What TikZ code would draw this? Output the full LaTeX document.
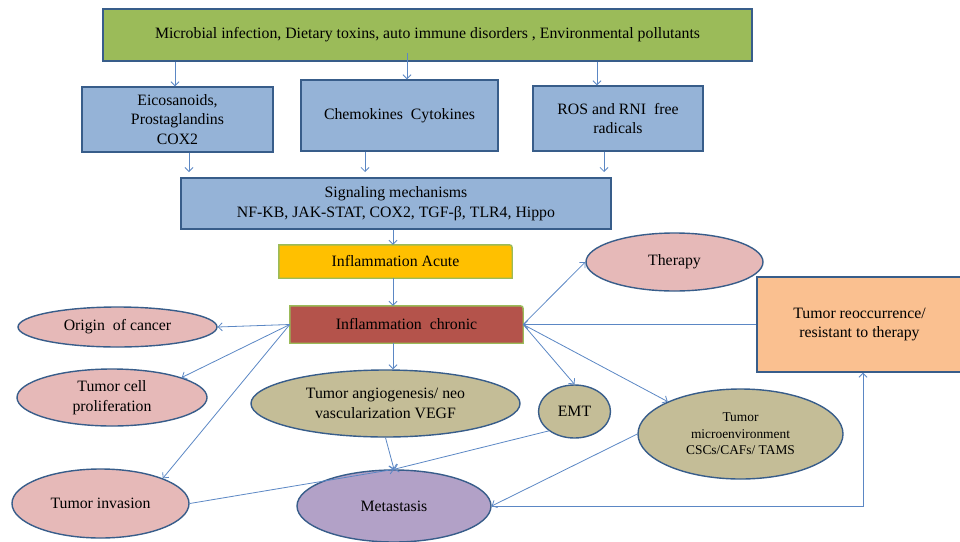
\documentclass[tikz,border=0pt]{standalone}
\usepackage{fontspec}
\setmainfont{Liberation Serif}
\usetikzlibrary{shapes.geometric,arrows.meta,backgrounds,calc}
\definecolor{bord}{HTML}{385D8A}
\definecolor{grnfill}{HTML}{9BBB59}
\definecolor{bluefill}{HTML}{95B3D7}
\definecolor{amber}{HTML}{FFC000}
\definecolor{redfill}{HTML}{B4534B}
\definecolor{pinkfill}{HTML}{E6B9B8}
\definecolor{khaki}{HTML}{C4BD97}
\definecolor{lilac}{HTML}{B2A1C7}
\definecolor{peach}{HTML}{FAC090}
\definecolor{arrcol}{HTML}{5B87C4}
\begin{document}
\begin{tikzpicture}[x=1pt,y=-1pt,
  txt/.style={font=\fontsize{15.8}{19.5}\selectfont, text=black, align=center, inner sep=0pt},
  boxn/.style={txt, draw=bord, line width=1.4pt, rectangle},
  ell/.style={txt, draw=bord, line width=1.4pt, ellipse},
  plain/.style={txt, rectangle},
  arr/.style={draw=arrcol, line width=0.8pt, -{Straight Barb[length=4pt,width=8pt]}},
  ln/.style={draw=arrcol, line width=0.8pt}
]
\useasboundingbox (0,0) rectangle (960,541);
\clip (0,0) rectangle (960,541);

% top row
\node[boxn, fill=grnfill, minimum width=649pt, minimum height=52pt] (top) at (427.5,35)
  {Microbial infection, Dietary toxins, auto immune disorders , Environmental pollutants};
\node[boxn, fill=bluefill, minimum width=191pt, minimum height=65pt] (eico) at (177.5,119.5)
  {Eicosanoids,\\Prostaglandins\\COX2};
\node[boxn, fill=bluefill, minimum width=197pt, minimum height=71pt] (chemo) at (399.5,115.5)
  {Chemokines~ Cytokines};
\node[boxn, fill=bluefill, minimum width=170pt, minimum height=65pt] (ros) at (618,118.5)
  {ROS and RNI~ free\\radicals};
\node[boxn, fill=bluefill, minimum width=430pt, minimum height=51pt] (sig) at (396,203.5)
  {Signaling mechanisms\\NF-KB, JAK-STAT, COX2, TGF-β, TLR4, Hippo};

% acute / chronic
\node[plain, minimum width=233pt, minimum height=33pt] (acute) at (395.5,261.5) {Inflammation Acute};
\node[plain, minimum width=233pt, minimum height=37pt] (chronic) at (406.5,324.5) {Inflammation~ chronic};
\begin{scope}[on background layer]
  \draw[line width=1.4pt, draw=grnfill, fill=amber]
    (acute.south west) -- (acute.north west) -- ($(acute.north east)-(6,0)$)
    .. controls (acute.north east) .. ($(acute.north east)+(0,6)$) -- (acute.south east) -- cycle;
  \draw[line width=1.4pt, draw=grnfill, fill=redfill]
    (chronic.south west) -- (chronic.north west) -- ($(chronic.north east)-(6,0)$)
    .. controls (chronic.north east) .. ($(chronic.north east)+(0,6)$) -- (chronic.south east) -- cycle;
\end{scope}

% ellipses
\node[ell, fill=pinkfill, minimum width=199pt, minimum height=40pt] (origin) at (117.5,327) {Origin~ of cancer};
\node[ell, fill=pinkfill, minimum width=190pt, minimum height=57pt] (prolif) at (112,397.5) {Tumor cell\\proliferation};
\node[ell, fill=pinkfill, minimum width=177pt, minimum height=69pt] (invasion) at (100.5,503.5) {Tumor invasion};
\node[ell, fill=khaki, minimum width=269pt, minimum height=67pt] (angio) at (385.5,403.5) {Tumor angiogenesis/ neo\\vascularization VEGF};
\node[ell, fill=khaki, minimum width=72pt, minimum height=53pt] (emt) at (574.5,411.5) {EMT};
\node[ell, fill=khaki, minimum width=205pt, minimum height=90pt, font=\fontsize{13.4}{16.5}\selectfont] (micro) at (740.5,434) {Tumor\\microenvironment\\CSCs/CAFs/ TAMS};
\node[ell, fill=lilac, minimum width=194pt, minimum height=72pt] (meta) at (394,506) {Metastasis};
\node[ell, fill=pinkfill, minimum width=177pt, minimum height=58pt] (therapy) at (674.5,262) {Therapy};
\node[boxn, fill=peach, minimum width=205pt, minimum height=95pt] (recur) at (859.5,324.5) {Tumor reoccurrence/\\resistant to therapy};

% helper coordinates
\coordinate (xa) at (175,0);
\coordinate (xb) at (407,53);
\coordinate (xc) at (597,0);
\coordinate (ea) at (189,172);
\coordinate (eb) at (365,172);
\coordinate (ec) at (604,172);
\coordinate (spine) at (393,0);
\coordinate (turn) at (863,0);

% connectors
\draw[arr] (top.south -| xa) -- (eico.north -| xa);
\draw[arr] (xb) -- (chemo.north -| xb);
\draw[arr] (top.south -| xc) -- (ros.north -| xc);
\draw[arr] (eico.south -| ea) -- (ea);
\draw[arr] (chemo.south -| eb) -- (eb);
\draw[arr] (ros.south -| ec) -- (ec);
\draw[arr] (sig.south -| spine) -- (acute.north -| spine);
\draw[arr] (acute.south -| spine) -- (chronic.north -| spine);
\draw[arr] (chronic.south -| spine) -- (spine |- angio.north);

\draw[arr] (chronic.west) -- (origin.east);
\draw[arr] (chronic.west) -- (prolif.16);
\draw[arr] (chronic.west) -- (invasion.22);
\draw[arr] (chronic.east) -- (therapy.west);
\draw[arr] (chronic.east) -- (emt.north);
\draw[arr] (chronic.east) -- (micro.156);
\draw[arr] (recur.west) -- (recur.west -| chronic.east);

\draw[arr] (angio.south) -- (meta.north);
\draw[arr] (invasion.east) -- (meta.north);
\draw[arr] (emt.217) -- (meta.north);
\draw[arr] (micro.west) -- (meta.east);
\draw[arr] (meta.east) -- (meta.east -| turn) -- (turn |- recur.south);
\end{tikzpicture}
\end{document}
